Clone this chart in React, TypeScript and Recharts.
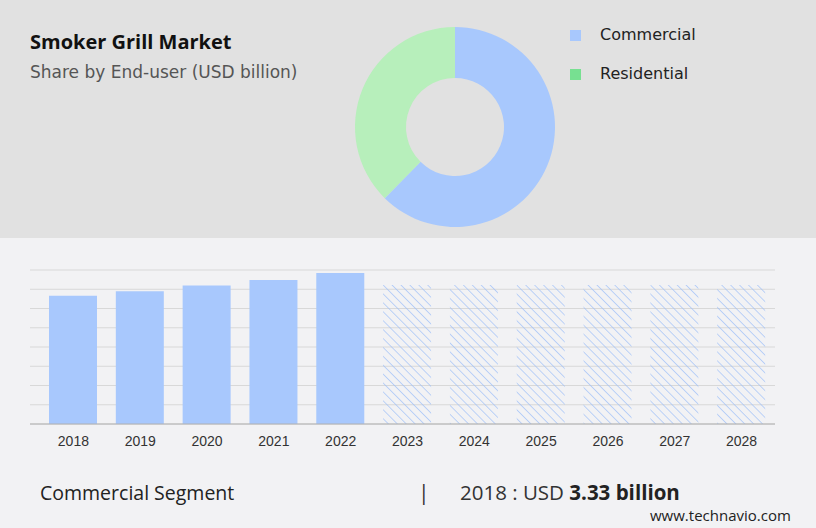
import React from "react"
import { BarChart, Bar, XAxis, YAxis, CartesianGrid, Cell, PieChart, Pie } from "recharts"

const years = ["2018", "2019", "2020", "2021", "2022", "2023", "2024", "2025", "2026", "2027", "2028"]
const marketValues = [3.33, 3.45, 3.6, 3.74, 3.92, 3.61, 3.61, 3.61, 3.61, 3.61, 3.61]
const forecastFrom = "2023"
const yTicks = [0, 0.5, 1, 1.5, 2, 2.5, 3, 3.5, 4]

const segments = ["Commercial", "Residential"]
const segmentShares = [62.4, 37.6]
const segmentColors = ["#a8c8fd", "#b7efbb"]
const legendColors = ["#a8c8fd", "#77e091"]

const barData = years.map((year, i) => ({ year, value: marketValues[i] }))
const pieData = segments.map((name, i) => ({ name, value: segmentShares[i] }))

const BLUE = "#a8c8fd"
const yMax = yTicks[yTicks.length - 1]

// grid line at every y tick
const gridRows = (props: any) => {
  const scale = props?.yAxis?.scale
  if (typeof scale === "function") return yTicks.map((t) => scale(t))
  const { top, height } = props.offset
  return yTicks.map((t) => top + height * (1 - t / yMax))
}

export default function App() {
  const forecastIdx = years.indexOf(forecastFrom)

  return (
    <div
      style={{
        position: "absolute",
        left: 0,
        top: 0,
        width: 816,
        height: 528,
        background: "#f2f2f4",
        overflow: "hidden",
        fontFamily: "'Open Sans', sans-serif",
      }}
    >
      <div style={{ position: "absolute", left: 0, top: 0, width: 816, height: 238, background: "#e1e1e1" }} />

      <div style={{ position: "absolute", left: 30, top: 28, fontSize: 20, fontWeight: 700, color: "#111" }}>
        Smoker Grill Market
      </div>
      <div
        style={{
          position: "absolute",
          left: 30,
          top: 62,
          fontSize: 17,
          color: "#555",
          fontFamily: "'DejaVu Sans', sans-serif",
        }}
      >
        Share by End-user (USD billion)
      </div>

      <div style={{ position: "absolute", left: 0, top: 0 }}>
        <PieChart width={816} height={238} margin={{ top: 0, right: 0, bottom: 0, left: 0 }}>
          <Pie
            data={pieData}
            dataKey="value"
            cx={455}
            cy={127}
            innerRadius={49}
            outerRadius={100}
            startAngle={90}
            endAngle={-270}
            stroke="none"
            isAnimationActive={false}
          >
            {pieData.map((d, i) => (
              <Cell key={d.name} fill={segmentColors[i]} />
            ))}
          </Pie>
        </PieChart>
      </div>

      {segments.map((name, i) => (
        <div key={name} style={{ position: "absolute", left: 570, top: 24 + i * 39, display: "flex", alignItems: "center" }}>
          <div style={{ width: 11, height: 11, background: legendColors[i] }} />
          <div
            style={{
              marginLeft: 19,
              fontSize: 16,
              color: "#222",
              fontFamily: "'DejaVu Sans', sans-serif",
              lineHeight: "22px",
            }}
          >
            {name}
          </div>
        </div>
      ))}

      <div style={{ position: "absolute", left: 0, top: 250 }}>
        <BarChart width={816} height={204} data={barData} margin={{ top: 20, right: 41, left: 30, bottom: 0 }}>
          <defs>
            <pattern id="hatch" width="6.3" height="6.3" patternUnits="userSpaceOnUse" patternTransform="rotate(-45)">
              <line x1="0" y1="0" x2="0" y2="6.3" stroke="#9dbff8" strokeWidth="1.3" />
            </pattern>
          </defs>
          <CartesianGrid vertical={false} stroke="#d8d8d8" horizontalCoordinatesGenerator={gridRows} />
          <XAxis
            dataKey="year"
            padding={{ left: 10, right: 0 }}
            tickLine={false}
            axisLine={{ stroke: "#b0b0b0" }}
            tick={{ fontSize: 14, fill: "#333", fontFamily: "'Liberation Sans', Arial, sans-serif", dy: 4 }}
            interval={0}
          />
          <YAxis hide domain={[0, yMax]} ticks={yTicks} />
          <Bar dataKey="value" barSize={48} isAnimationActive={false}>
            {barData.map((d, i) => (
              <Cell key={d.year} fill={i >= forecastIdx ? "url(#hatch)" : BLUE} />
            ))}
          </Bar>
        </BarChart>
      </div>

      <div style={{ position: "absolute", left: 40, top: 479, fontSize: 19.5, color: "#222" }}>Commercial Segment</div>
      <div style={{ position: "absolute", left: 418, top: 478, fontSize: 21, color: "#333" }}>|</div>
      <div style={{ position: "absolute", left: 460, top: 478, fontSize: 20.5, color: "#333" }}>
        2018 : USD <span style={{ fontWeight: 700, color: "#222" }}>3.33 billion</span>
      </div>
      <div style={{ position: "absolute", left: 650, top: 505, fontSize: 15, color: "#222" }}>www.technavio.com</div>
    </div>
  )
}
